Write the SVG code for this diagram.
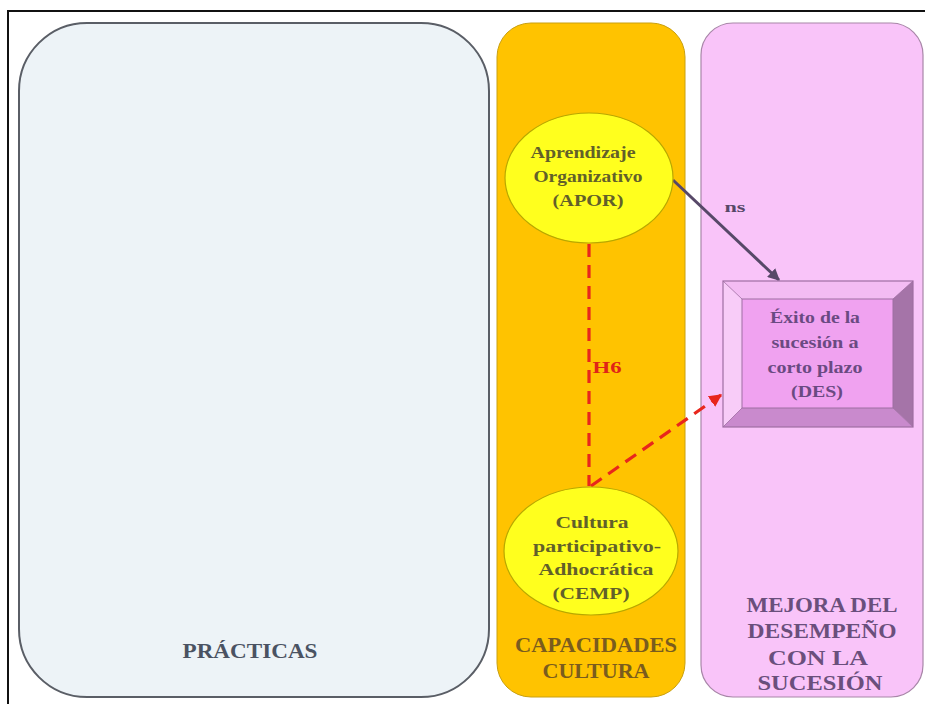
<svg xmlns="http://www.w3.org/2000/svg" width="925" height="704" viewBox="0 0 925 704">
  <defs>
    <style>
      text { font-family: "Liberation Serif", "Times New Roman", serif; font-weight: bold; text-anchor: middle; }
      .node-ell { fill: #FFFF1E; stroke: #B8A800; stroke-width: 1.2; }
      .ell-text { font-size: 17px; fill: #62602A; }
      .des-text { font-size: 16px; fill: #6A4A82; }
      .panel-title { font-size: 20px; }
      .dash { stroke: #E8261C; stroke-width: 3.2; stroke-dasharray: 13 8; fill: none; }
    </style>
    <marker id="arrowDark" viewBox="0 0 10 10" refX="9" refY="5" markerWidth="4" markerHeight="4" orient="auto">
      <path d="M0,0 L10,5 L0,10 Z" fill="#574868"/>
    </marker>
    <marker id="arrowRed" viewBox="0 0 10 10" refX="9" refY="5" markerWidth="4" markerHeight="4" orient="auto">
      <path d="M0,0 L10,5 L0,10 Z" fill="#E8261C"/>
    </marker>
  </defs>

  <rect x="0" y="0" width="925" height="704" fill="#FFFFFF"/>
  <!-- outer frame -->
  <rect x="8" y="11" width="940" height="720" fill="none" stroke="#111111" stroke-width="2"/>

  <!-- column panels -->
  <g id="panel-practicas">
    <rect x="19" y="23" width="470" height="674" rx="68" ry="68" fill="#EDF3F7" stroke="#5A5E66" stroke-width="2"/>
    <text class="panel-title" x="250" y="658" fill="#4A5262" textLength="135" lengthAdjust="spacingAndGlyphs">PRÁCTICAS</text>
  </g>

  <g id="panel-capacidades">
    <rect x="497" y="23" width="188" height="674" rx="34" ry="34" fill="#FFC300" stroke="#C9A010" stroke-width="1"/>
    <text class="panel-title" x="596" y="652" fill="#7A5C1E" textLength="162" lengthAdjust="spacingAndGlyphs">CAPACIDADES</text>
    <text class="panel-title" x="596" y="678" fill="#7A5C1E" textLength="107" lengthAdjust="spacingAndGlyphs">CULTURA</text>
  </g>

  <g id="panel-mejora">
    <rect x="701" y="23" width="222" height="674" rx="32" ry="32" fill="#F9C4F9" stroke="#A886A8" stroke-width="1.2"/>
    <text class="panel-title" x="822" y="612" fill="#6A4F7C" textLength="151" lengthAdjust="spacingAndGlyphs">MEJORA DEL</text>
    <text class="panel-title" x="822" y="638" fill="#6A4F7C" textLength="149" lengthAdjust="spacingAndGlyphs">DESEMPEÑO</text>
    <text class="panel-title" x="818" y="665" fill="#6A4F7C" textLength="100" lengthAdjust="spacingAndGlyphs">CON LA</text>
    <text class="panel-title" x="820" y="690" fill="#6A4F7C" textLength="125" lengthAdjust="spacingAndGlyphs">SUCESIÓN</text>
  </g>

  <!-- connectors -->
  <g id="connectors">
    <line x1="673" y1="180" x2="779" y2="280" stroke="#574868" stroke-width="3" marker-end="url(#arrowDark)"/>
    <text x="735" y="212" font-size="15" fill="#574868" textLength="21" lengthAdjust="spacingAndGlyphs">ns</text>

    <line class="dash" x1="589" y1="244" x2="589" y2="486"/>
    <text x="607" y="373" font-size="17" fill="#E02418" textLength="29" lengthAdjust="spacingAndGlyphs">H6</text>

    <line class="dash" x1="591" y1="486" x2="721" y2="395" marker-end="url(#arrowRed)"/>
  </g>

  <g id="node-apor">
    <ellipse class="node-ell" cx="589" cy="178" rx="84" ry="65"/>
    <text class="ell-text" x="583" y="158" textLength="105" lengthAdjust="spacingAndGlyphs">Aprendizaje</text>
    <text class="ell-text" x="588" y="182" textLength="109" lengthAdjust="spacingAndGlyphs">Organizativo</text>
    <text class="ell-text" x="588" y="206" textLength="71" lengthAdjust="spacingAndGlyphs">(APOR)</text>
  </g>

  <g id="node-cemp">
    <ellipse class="node-ell" cx="591" cy="551" rx="87" ry="64"/>
    <text class="ell-text" x="592" y="528" textLength="73" lengthAdjust="spacingAndGlyphs">Cultura</text>
    <text class="ell-text" x="597" y="552" textLength="128" lengthAdjust="spacingAndGlyphs">participativo-</text>
    <text class="ell-text" x="596" y="575" textLength="115" lengthAdjust="spacingAndGlyphs">Adhocrática</text>
    <text class="ell-text" x="591" y="599" textLength="77" lengthAdjust="spacingAndGlyphs">(CEMP)</text>
  </g>

  <g id="node-des">
    <!-- bevelled box: four sloped edges round a flat face -->
    <polygon points="723,281 913,281 893,299 742,299" fill="#F3BCF3"/>
    <polygon points="723,281 742,299 742,408 723,427" fill="#F8CCF8"/>
    <polygon points="913,281 913,427 893,408 893,299" fill="#A574A8"/>
    <polygon points="723,427 742,408 893,408 913,427" fill="#C98ACD"/>
    <rect x="742" y="299" width="151" height="109" fill="#F0A2F0" stroke="#9E6EA2" stroke-width="1"/>
    <rect x="723" y="281" width="190" height="146" fill="none" stroke="#9E6EA2" stroke-width="1.2"/>
    <line x1="723" y1="281" x2="742" y2="299" stroke="#9E6EA2" stroke-width="0.8"/>
    <line x1="913" y1="281" x2="893" y2="299" stroke="#9E6EA2" stroke-width="0.8"/>
    <line x1="723" y1="427" x2="742" y2="408" stroke="#9E6EA2" stroke-width="0.8"/>
    <line x1="913" y1="427" x2="893" y2="408" stroke="#9E6EA2" stroke-width="0.8"/>
    <text class="des-text" x="815" y="323" textLength="90" lengthAdjust="spacingAndGlyphs">Éxito de la</text>
    <text class="des-text" x="815" y="348" textLength="87" lengthAdjust="spacingAndGlyphs">sucesión a</text>
    <text class="des-text" x="815" y="373" textLength="95" lengthAdjust="spacingAndGlyphs">corto plazo</text>
    <text class="des-text" x="817" y="397" textLength="52" lengthAdjust="spacingAndGlyphs">(DES)</text>
  </g>
</svg>
